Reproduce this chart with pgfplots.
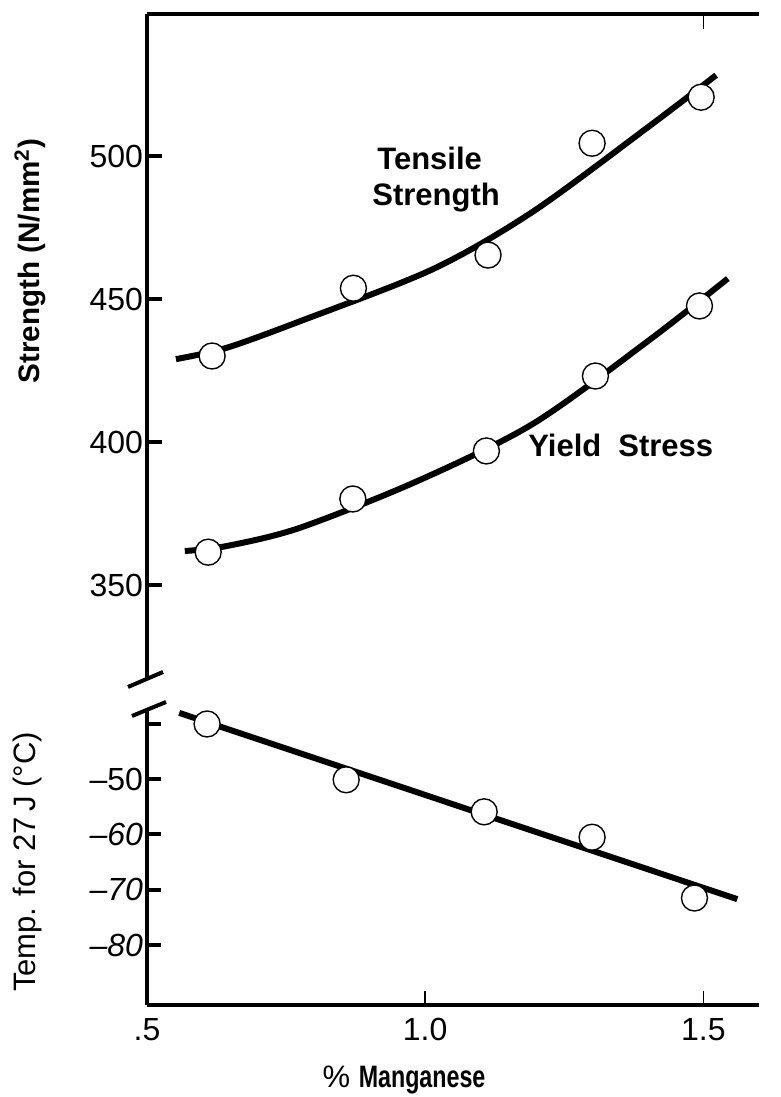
\documentclass[border=0pt]{standalone}
\usepackage{fontspec}
\setmainfont{Liberation Sans}
\usepackage{graphicx}
\usepackage{pgfplots}
\usepackage{pgfplotstable}
\pgfplotsset{compat=1.18}

% measured points
\pgfplotstableread{
x y
0.617 430.1
0.871 453.8
1.113 465.4
1.300 504.5
1.496 520.6
}\tensilepts

\pgfplotstableread{
x y
0.610 361.5
0.870 380.1
1.110 396.9
1.306 423.1
1.493 447.6
}\yieldpts

\pgfplotstableread{
x y
0.608 -40.0
0.858 -50.1
1.106 -55.9
1.300 -60.5
1.484 -71.5
}\temppts

% fitted curves
\pgfplotstableread{
x y
0.552 429.0
0.642 432.9
0.773 442.1
1.013 460.4
1.193 480.5
1.403 510.5
1.523 528.3
}\tensilecurve

\pgfplotstableread{
x y
0.568 361.9
0.642 363.6
0.773 369.9
0.983 386.1
1.193 406.3
1.403 435.7
1.544 457.2
}\yieldcurve

\pgfplotstableread{
x y
0.558 -38.0
1.561 -71.7
}\templine

\newcommand{\lblfont}{\fontsize{15.5}{18}\selectfont}
\newcommand{\tickfont}{\fontsize{16}{18}\selectfont}

\pgfplotsset{
  mnbase/.style={
    scale only axis,
    width=306pt,
    xmin=0.5, xmax=1.6,
    tick align=inside,
    major tick length=7.5pt,
    axis line style={-, line width=1.8pt},
    every outer x axis line/.append style={-},
    every outer y axis line/.append style={-},
    y tick style={line width=2pt, black},
    x tick style={line width=0.8pt, black},
    every tick label/.append style={font=\tickfont, text=black},
    yticklabel style={xshift=1.5pt},
    clip=false,
  },
  curve/.style={line width=3pt, black, no marks},
  pts/.style={only marks, mark=*, mark size=6.5pt,
    mark options={fill=white, draw=black, line width=0.7pt}},
}

\begin{document}
\begin{tikzpicture}
\path[use as bounding box] (0,0) rectangle (390.5pt,548.5pt);

% strength panel
\begin{axis}[mnbase,
  at={(73.5pt,209.5pt)}, anchor=south west,
  height=332pt,
  ymin=317.5, ymax=549.7,
  axis x line*=top, axis y line*=left,
  xtick={1.5}, xticklabels={},
  ytick={350,400,450,500},
  yticklabels={350,400,450,500},
]
  \addplot[curve, smooth] table {\tensilecurve};
  \addplot[curve, smooth] table {\yieldcurve};
  \addplot[pts] table {\tensilepts};
  \addplot[pts] table {\yieldpts};
\end{axis}

% impact transition temperature panel
\begin{axis}[mnbase,
  at={(73.5pt,46pt)}, anchor=south west,
  height=148pt,
  ymin=-90.86, ymax=-37.29,
  axis x line*=bottom, axis y line*=left,
  xtick={0.5,1.0,1.5}, xticklabels={.5,1.0,1.5},
  xticklabel style={yshift=-3pt},
  major tick length=7pt,
  ytick={-80,-70,-60,-50,-40},
  yticklabels={{\itshape\textendash80},{\itshape\textendash70},{\itshape\textendash60},{\textendash50},{}},
]
  \addplot[curve] table {\templine};
  \addplot[pts] table {\temppts};
\end{axis}

% axis break
\draw[line width=2pt] (64pt,205pt) -- (81.5pt,212.5pt);
\draw[line width=2pt] (66pt,190.5pt) -- (83pt,197.5pt);

% labels
\node[rotate=90, font=\fontsize{14.8}{18}\selectfont\bfseries] at (15pt,418pt) {Strength (N/mm\textsuperscript{2})};
\node[rotate=90, font=\lblfont] at (13.5pt,117.5pt) {Temp. for 27\,J (\textdegree C)};
\node[font=\lblfont] at (202pt,8.5pt) {\% \scalebox{0.75}[1]{\bfseries Manganese}};
\node[anchor=west, align=left, font=\lblfont\bfseries, inner sep=0pt] at (186pt,458.5pt) {\hspace{2.5pt}Tensile\\Strength};
\node[anchor=west, font=\lblfont\bfseries, inner sep=0pt] at (264pt,326pt) {Yield\hspace{0.55em}Stress};
\end{tikzpicture}
\end{document}
